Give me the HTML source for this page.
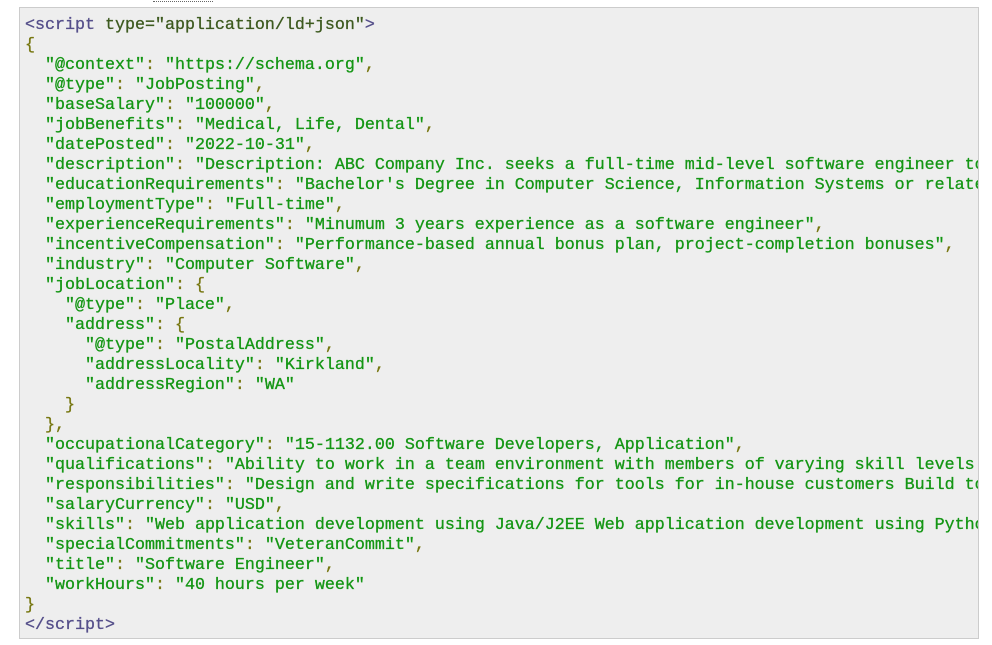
<!DOCTYPE html>
<html><head><meta charset="utf-8"><style>
html,body{margin:0;padding:0;background:#fff;width:992px;height:645px;overflow:hidden}
.box{position:absolute;left:19px;top:7px;width:958px;height:630px;background:#eeeeee;border:1px solid #cccccc;overflow:hidden}
pre{margin:0;position:absolute;left:5px;top:8px;font-family:"Liberation Mono",monospace;font-size:16.67px;line-height:20px;color:#777711;white-space:pre;-webkit-text-stroke:0.3px currentColor}
.t{color:#554f8a}.a{color:#3d5a1f}.s{color:#149614}
.u{position:absolute;left:153px;top:1px;width:60px;border-top:1px dotted #666}
</style></head><body>
<div class="u"></div>
<div class="box"><pre><span class="t">&lt;script</span> <span class="a">type=</span><span class="s" style="color:#3d5a1f">"application/ld+json"</span><span class="t">&gt;</span>
{
  <span class="s">"@context"</span>: <span class="s">"https://schema.org"</span>,
  <span class="s">"@type"</span>: <span class="s">"JobPosting"</span>,
  <span class="s">"baseSalary"</span>: <span class="s">"100000"</span>,
  <span class="s">"jobBenefits"</span>: <span class="s">"Medical, Life, Dental"</span>,
  <span class="s">"datePosted"</span>: <span class="s">"2022-10-31"</span>,
  <span class="s">"description"</span>: <span class="s">"Description: ABC Company Inc. seeks a full-time mid-level software engineer to develop in-house tools."</span>,
  <span class="s">"educationRequirements"</span>: <span class="s">"Bachelor's Degree in Computer Science, Information Systems or related fields of study."</span>,
  <span class="s">"employmentType"</span>: <span class="s">"Full-time"</span>,
  <span class="s">"experienceRequirements"</span>: <span class="s">"Minumum 3 years experience as a software engineer"</span>,
  <span class="s">"incentiveCompensation"</span>: <span class="s">"Performance-based annual bonus plan, project-completion bonuses"</span>,
  <span class="s">"industry"</span>: <span class="s">"Computer Software"</span>,
  <span class="s">"jobLocation"</span>: {
    <span class="s">"@type"</span>: <span class="s">"Place"</span>,
    <span class="s">"address"</span>: {
      <span class="s">"@type"</span>: <span class="s">"PostalAddress"</span>,
      <span class="s">"addressLocality"</span>: <span class="s">"Kirkland"</span>,
      <span class="s">"addressRegion"</span>: <span class="s">"WA"</span>
    }
  },
  <span class="s">"occupationalCategory"</span>: <span class="s">"15-1132.00 Software Developers, Application"</span>,
  <span class="s">"qualifications"</span>: <span class="s">"Ability to work in a team environment with members of varying skill levels."</span>,
  <span class="s">"responsibilities"</span>: <span class="s">"Design and write specifications for tools for in-house customers Build tools."</span>,
  <span class="s">"salaryCurrency"</span>: <span class="s">"USD"</span>,
  <span class="s">"skills"</span>: <span class="s">"Web application development using Java/J2EE Web application development using Python"</span>,
  <span class="s">"specialCommitments"</span>: <span class="s">"VeteranCommit"</span>,
  <span class="s">"title"</span>: <span class="s">"Software Engineer"</span>,
  <span class="s">"workHours"</span>: <span class="s">"40 hours per week"</span>
}
<span class="t">&lt;/script&gt;</span></pre></div>
</body></html>
